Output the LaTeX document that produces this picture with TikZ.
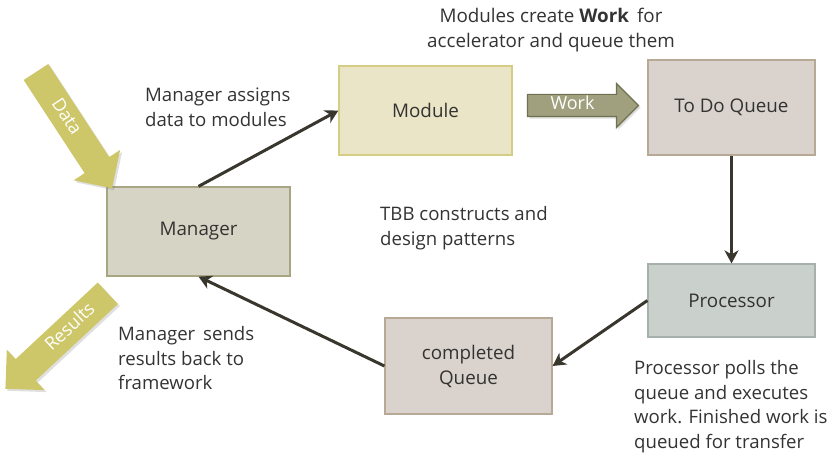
\documentclass[tikz,border=0pt]{standalone}
\usepackage{fontspec}
\setmainfont{Open Sans}
\usetikzlibrary{shapes.arrows,arrows.meta,shadows}
\definecolor{txt}{HTML}{333333}
\definecolor{modfill}{HTML}{E9E5C6}\definecolor{moddraw}{HTML}{D6CC84}
\definecolor{qfill}{HTML}{DAD3CD}\definecolor{qdraw}{HTML}{B8A996}
\definecolor{pfill}{HTML}{CAD0CB}\definecolor{pdraw}{HTML}{A7B1AB}
\definecolor{mfill}{HTML}{D6D5C5}\definecolor{mdraw}{HTML}{A8A682}
\definecolor{yarrow}{HTML}{CEC76A}
\definecolor{warrow}{HTML}{A0A07E}\definecolor{wdraw}{HTML}{707052}
\definecolor{link}{HTML}{38362D}
\tikzset{
  box/.style={draw, line width=1.2pt, font=\fontsize{18.8}{25}\selectfont, text=txt, align=center, inner sep=0pt},
  note/.style={font=\fontsize{18.6}{24.8}\selectfont, text=txt, align=left, anchor=north west, inner sep=0pt},
  link/.style={draw=link, line width=3pt, -{Stealth[length=13pt,width=14pt,inset=4pt]}},
  bigarrow/.style={single arrow, single arrow head indent=0pt, inner sep=0pt, text=white,
     font=\fontsize{18}{20}\selectfont, text height=13pt, text depth=4pt,
     drop shadow={shadow xshift=2pt, shadow yshift=-2pt, opacity=0.25}},
}
\begin{document}
\begin{tikzpicture}[x=1pt,y=-1pt]
\useasboundingbox (0,0) rectangle (831,465);
% boxes
\node[box, fill=modfill, draw=moddraw, minimum width=173pt, minimum height=89pt] (module) at (425.5,110.5) {Module};
\node[box, fill=qfill, draw=qdraw, minimum width=167pt, minimum height=95pt] (todo) at (731.5,107.5) {To Do Queue};
\node[box, fill=pfill, draw=pdraw, minimum width=167pt, minimum height=73pt] (proc) at (731.5,300.5) {Processor};
\node[box, fill=qfill, draw=qdraw, minimum width=167pt, minimum height=96pt] (done) at (468.5,366) {completed\\Queue};
\node[box, fill=mfill, draw=mdraw, minimum width=183pt, minimum height=89pt] (mgr) at (198.5,231.5) {Manager};
% block arrows
\node[bigarrow, fill=warrow, draw=wdraw, line width=1.2pt, minimum height=111pt, inner ysep=2pt,
      single arrow head extend=11pt] (work) at (577.5,105.5) {\hspace*{8pt}Work\hspace*{18pt}};
\node[bigarrow, fill=yarrow, rotate=-56.8, minimum height=139pt, inner ysep=6pt,
      single arrow head extend=13pt] (data) at (70,124) {\hspace*{4pt}Data\hspace*{20pt}};
\node[bigarrow, fill=yarrow, rotate=43, shape border rotate=180, minimum height=140pt, inner ysep=6pt,
      single arrow head extend=13pt] (res) at (62,336) {\hspace*{26pt}Results\hspace*{2pt}};
% connectors
\draw[link] (mgr.north) -- (module.west);
\draw[link] (todo.south) -- (proc.north);
\draw[link] (proc.west) -- (done.east);
\draw[link] (done.west) -- (mgr.south);
% labels
\node[font=\fontsize{18.8}{25}\selectfont, text=txt, align=center] (title) at (551,30) {Modules create \textbf{Work}\, for\\accelerator and queue them};
\node[note] (assign) at (145,88) {Manager assigns\\data to modules};
\node[note] (tbb) at (380,206) {TBB constructs and\\design patterns};
\node[note] (sends) at (118,326) {Manager\, sends\\results back to\\framework};
\node[note] (polls) at (634,360) {Processor polls the\\queue and executes\\work. Finished work is\\queued for transfer};
\end{tikzpicture}
\end{document}
